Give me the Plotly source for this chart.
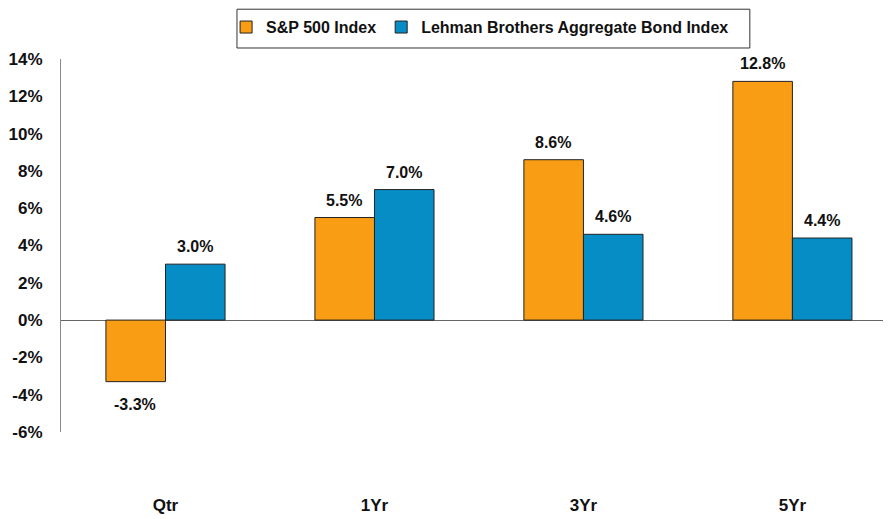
import plotly.graph_objects as go

categories = ["Qtr", "1Yr", "3Yr", "5Yr"]
sp500 = [-3.3, 5.5, 8.6, 12.8]
lehman = [3.0, 7.0, 4.6, 4.4]
series_names = ["S&P 500 Index", "Lehman Brothers Aggregate Bond Index"]
ytick_vals = [-6, -4, -2, 0, 2, 4, 6, 8, 10, 12, 14]
ytick_text = [f"{v}%" for v in ytick_vals]

font_family = "Liberation Sans, Arial, sans-serif"
colors = ["#F99D14", "#078DC6"]

fig = go.Figure()
for name, vals, color in zip(series_names, [sp500, lehman], colors):
    fig.add_trace(go.Bar(
        x=categories, y=vals, name=name,
        marker=dict(color=color, line=dict(color="#222222", width=1)),
        offsetgroup=name,
    ))

# data labels as annotations (shifted to each bar of the pair)
annotations = []
for vals, xs in [(sp500, -30), (lehman, 30)]:
    for cat, v in zip(categories, vals):
        annotations.append(dict(
            x=cat, y=v, xref="x", yref="y", text=f"<b>{v:.1f}%</b>", showarrow=False,
            xshift=xs, yshift=7 if v >= 0 else -12,
            yanchor="bottom" if v >= 0 else "top",
            font=dict(family=font_family, size=16, color="#111111"),
        ))

# page body has an 8px default margin; compensate in the figure margins
fig.update_layout(
    width=891, height=519,
    margin=dict(l=53, r=0, t=51, b=95, autoexpand=False),
    paper_bgcolor="white", plot_bgcolor="white",
    barmode="group", bargap=0.43, bargroupgap=0,
    font=dict(family=font_family, color="#111111"),
    showlegend=True,
    legend=dict(
        orientation="h", x=0.197, xanchor="left", y=1.131, yanchor="top",
        borderwidth=0, bgcolor="rgba(0,0,0,0)",
        font=dict(family=font_family, size=16, color="#111111", weight="bold"),
        itemwidth=30,
    ),
    annotations=annotations,
    shapes=[dict(
        type="rect", xref="paper", yref="paper",
        x0=0.210, x1=0.822, y0=1.0295, y1=1.1335,
        line=dict(color="#333333", width=1), fillcolor="rgba(0,0,0,0)", layer="below",
    )],
    xaxis=dict(
        range=[-0.5, 3.51], showline=False, showgrid=False, zeroline=False, automargin=False,
        ticks="", tickfont=dict(family=font_family, size=17, color="#111111", weight="bold"),
        ticklabelstandoff=61,
    ),
    yaxis=dict(
        range=[-6, 14], tickvals=ytick_vals, ticktext=ytick_text, automargin=False,
        showline=True, linecolor="#888888", linewidth=1,
        showgrid=False, zeroline=True, zerolinecolor="#666666", zerolinewidth=1,
        ticks="", tickfont=dict(family=font_family, size=17, color="#111111", weight="bold"),
        ticklabelstandoff=14,
    ),
)

fig.write_html("out.html")
